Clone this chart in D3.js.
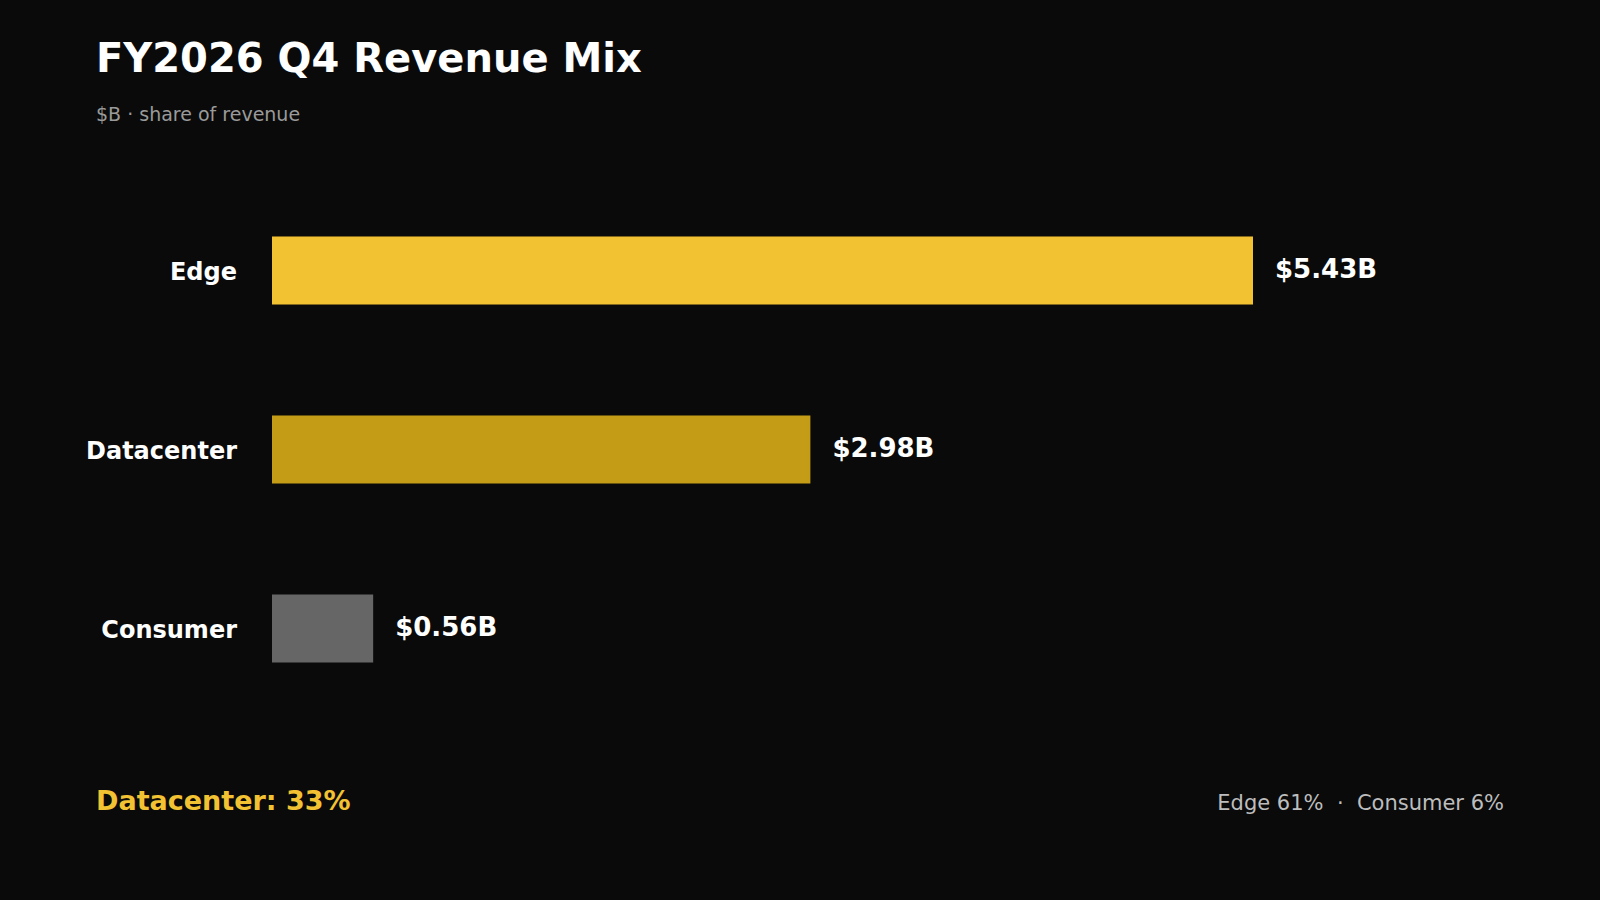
<!DOCTYPE html>
<html><head><meta charset="utf-8">
<script src="https://cdn.jsdelivr.net/npm/d3@7"></script>
<style>
  body{margin:0;background:#0a0a0a;}
  text{font-family:"DejaVu Sans",sans-serif;}
</style></head>
<body>
<svg id="chart" width="1600" height="900"></svg>
<script>
// data
var categories = ["Edge", "Datacenter", "Consumer"];
var values = [5.43, 2.98, 0.56];
var colors = ["#f3c232", "#c59c16", "#666666"];
var highlight = "Datacenter: 33%";
var footnote = "Edge 61%  \u00b7  Consumer 6%";

var svg = d3.select("#chart");
svg.append("rect").attr("width", 1600).attr("height", 900).attr("fill", "#0a0a0a");

svg.append("text").attr("x", 96).attr("y", 72).attr("fill", "#fff")
  .attr("font-size", 40).attr("font-weight", "bold").text("FY2026 Q4 Revenue Mix");
svg.append("text").attr("x", 96).attr("y", 121).attr("fill", "#9a9a9a")
  .attr("font-size", 19).text("$B \u00b7 share of revenue");

var x = d3.scaleLinear().domain([0, 5.43]).range([272, 1253]);
var y = d3.scaleBand().domain(categories).range([181, 718]).paddingInner(0.62).paddingOuter(0.31);

var g = svg.append("g");
var rows = g.selectAll(".row").data(categories).enter().append("g").attr("class", "row");

rows.append("rect")
  .attr("x", x(0))
  .attr("y", function(d){ return y(d); })
  .attr("height", y.bandwidth())
  .attr("width", function(d, i){ return x(values[i]) - x(0); })
  .attr("fill", function(d, i){ return colors[i]; });

rows.append("text")
  .attr("x", 237)
  .attr("y", function(d){ return y(d) + y.bandwidth() / 2 + 2; })
  .attr("text-anchor", "end").attr("dominant-baseline", "middle")
  .attr("fill", "#fff").attr("font-size", 24).attr("font-weight", "bold")
  .text(function(d){ return d; });

rows.append("text")
  .attr("x", function(d, i){ return x(values[i]) + 22; })
  .attr("y", function(d){ return y(d) + y.bandwidth() / 2; })
  .attr("dominant-baseline", "middle")
  .attr("fill", "#fff").attr("font-size", 26).attr("font-weight", "bold")
  .text(function(d, i){ return "$" + values[i].toFixed(2) + "B"; });

svg.append("text").attr("x", 96).attr("y", 810).attr("fill", "#f3c232")
  .attr("font-size", 27).attr("font-weight", "bold").text(highlight);
svg.append("text").attr("x", 1504).attr("y", 810).attr("text-anchor", "end")
  .attr("fill", "#bdbdbd").attr("font-size", 21).attr("xml:space", "preserve")
  .style("white-space", "pre").text(footnote);
</script>
</body></html>
